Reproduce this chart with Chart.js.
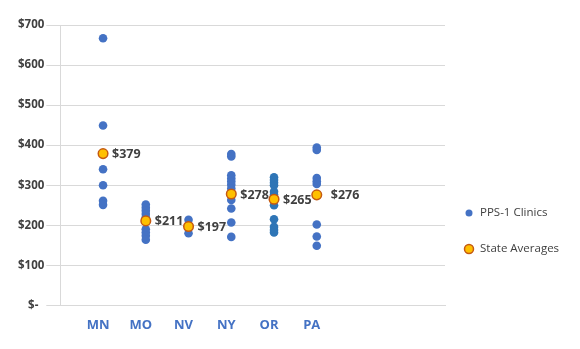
<!DOCTYPE html>
<html>
<head>
<meta charset="utf-8">
<script src="https://cdn.jsdelivr.net/npm/chart.js@4.4.1/dist/chart.umd.min.js"></script>
<style>
  body { margin: 0; background: #fff; }
</style>
</head>
<body>
<canvas id="costChart" width="580" height="349"></canvas>
<script>
const states = ['MN', 'MO', 'NV', 'NY', 'OR', 'PA'];
const mnClinics = [667, 449, 340, 300, 261, 251];
const moClinics = [252, 244, 236, 228, 220, 190, 182, 174, 164];
const nvClinics = [214, 198, 180];
const nyClinics = [378, 372, 325, 317, 309, 301, 292, 263, 242, 207, 171];
const orClinics = [320, 313, 306, 300, 284, 276, 250, 215, 196, 188, 182];
const paClinics = [394, 388, 318, 310, 303, 202, 172, 149];
const stateAverages = [379, 211, 197, 278, 265, 276];
const yTicks = [0, 100, 200, 300, 400, 500, 600, 700];

const clinicsByState = [mnClinics, moClinics, nvClinics, nyClinics, orClinics, paClinics];

const clinicPoints = [];
const clinicColors = [];
clinicsByState.forEach((vals, i) => {
    vals.forEach(v => {
        clinicPoints.push({ x: i + 1, y: v });
        clinicColors.push(states[i] === 'OR' ? '#2E75B6' : '#4472C4');
    });
});
const averagePoints = stateAverages.map((v, i) => ({ x: i + 1, y: v }));

const fontFamily = '"Open Sans", "Liberation Sans", sans-serif';

// "$379" style labels next to the orange markers
const averageLabels = {
    id: 'averageLabels',
    afterDatasetsDraw(chart) {
        const ctx = chart.ctx;
        const meta = chart.getDatasetMeta(1);
        ctx.save();
        ctx.font = 'bold 12.5px ' + fontFamily;
        ctx.fillStyle = '#404040';
        ctx.textBaseline = 'middle';
        meta.data.forEach((pt, i) => {
            const gap = states[i] === 'PA' ? 14 : 9;
            ctx.fillText('$' + stateAverages[i], pt.x + gap, pt.y + 1);
        });
        ctx.restore();
    }
};

// legend drawn by hand so it sits where the original one does
const sideLegend = {
    id: 'sideLegend',
    afterDraw(chart) {
        const ctx = chart.ctx;
        const x = chart.chartArea.right + 24;
        const items = chart.data.datasets.map((ds, i) => ({ ds, y: 213 + i * 36 }));
        ctx.save();
        ctx.font = '11.5px ' + fontFamily;
        ctx.textBaseline = 'middle';
        items.forEach(({ ds, y }) => {
            ctx.beginPath();
            ctx.arc(x, y, ds.legendRadius, 0, Math.PI * 2);
            ctx.fillStyle = ds.legendFill;
            ctx.fill();
            if (ds.borderWidth) {
                ctx.lineWidth = ds.borderWidth;
                ctx.strokeStyle = ds.borderColor;
                ctx.stroke();
            }
            ctx.fillStyle = '#404040';
            ctx.fillText(ds.label, x + 11, y);
        });
        ctx.restore();
    }
};

new Chart(document.getElementById('costChart'), {
    type: 'scatter',
    data: {
        datasets: [{
            label: 'PPS-1 Clinics',
            data: clinicPoints,
            backgroundColor: clinicColors,
            borderWidth: 0,
            pointRadius: 4.3,
            order: 2,
            legendFill: '#4472C4',
            legendRadius: 3.5
        }, {
            label: 'State Averages',
            data: averagePoints,
            backgroundColor: '#FFC000',
            borderColor: '#C55A11',
            borderWidth: 1.5,
            pointRadius: 4.8,
            order: 1,
            legendFill: '#FFC000',
            legendRadius: 4.5
        }]
    },
    options: {
        responsive: false,
        animation: false,
        layout: { padding: { left: 16, right: 135, top: 25, bottom: 4 } },
        plugins: {
            legend: { display: false },
            tooltip: { enabled: false }
        },
        scales: {
            x: {
                type: 'linear',
                min: 0,
                max: 9,
                afterBuildTicks: axis => {
                    axis.ticks = states.map((s, i) => ({ value: i + 1 }));
                },
                grid: { display: false, drawTicks: false },
                border: { display: true, color: '#D9D9D9' },
                ticks: {
                    autoSkip: false,
                    maxRotation: 0,
                    padding: 12,
                    labelOffset: -5,
                    color: '#4472C4',
                    font: { family: fontFamily, size: 13, weight: 'bold' },
                    callback: v => states[v - 1] || ''
                }
            },
            y: {
                min: 0,
                max: 700,
                afterBuildTicks: axis => {
                    axis.ticks = yTicks.map(v => ({ value: v }));
                },
                grid: { color: '#D9D9D9', tickLength: 14 },
                border: { display: true, color: '#D9D9D9' },
                ticks: {
                    padding: 2,
                    color: '#404040',
                    font: { family: fontFamily, size: 11.5, weight: 'bold' },
                    callback: v => v === 0 ? '$-  ' : '$' + v
                }
            }
        }
    },
    plugins: [averageLabels, sideLegend]
});
</script>
</body>
</html>
